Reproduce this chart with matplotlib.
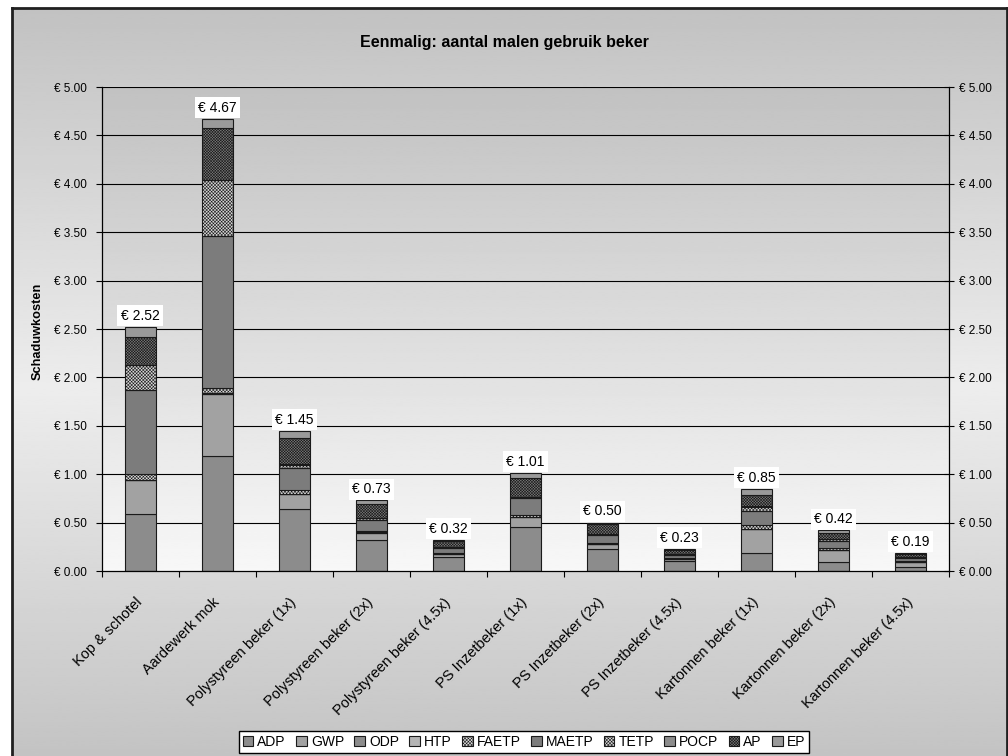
import numpy as np
import matplotlib.pyplot as plt
from matplotlib.ticker import FixedLocator, FuncFormatter

plt.rcParams['font.family'] = ['Liberation Sans', 'DejaVu Sans']
plt.rcParams['hatch.linewidth'] = 0.4

categories = ['Kop & schotel', 'Aardewerk mok', 'Polystyreen beker (1x)',
              'Polystyreen beker (2x)', 'Polystyreen beker (4.5x)',
              'PS Inzetbeker (1x)', 'PS Inzetbeker (2x)', 'PS Inzetbeker (4.5x)',
              'Kartonnen beker (1x)', 'Kartonnen beker (2x)', 'Kartonnen beker (4.5x)']
series = ['ADP', 'GWP', 'ODP', 'HTP', 'FAETP', 'MAETP', 'TETP', 'POCP', 'AP', 'EP']

adp = [0.59, 1.19, 0.645, 0.32, 0.143, 0.45, 0.225, 0.10, 0.19, 0.095, 0.042]
gwp = [0.35, 0.64, 0.15, 0.075, 0.033, 0.11, 0.055, 0.025, 0.245, 0.122, 0.055]
odp = [0.0, 0.0, 0.0, 0.0, 0.0, 0.0, 0.0, 0.0, 0.0, 0.0, 0.0]
htp = [0.005, 0.005, 0.005, 0.003, 0.001, 0.003, 0.001, 0.001, 0.003, 0.002, 0.001]
faetp = [0.06, 0.06, 0.035, 0.017, 0.008, 0.017, 0.009, 0.004, 0.037, 0.018, 0.008]
maetp = [0.87, 1.57, 0.225, 0.113, 0.05, 0.17, 0.085, 0.038, 0.14, 0.07, 0.031]
tetp = [0.25, 0.57, 0.04, 0.02, 0.009, 0.01, 0.005, 0.002, 0.05, 0.025, 0.011]
pocp = [0.005, 0.005, 0.005, 0.002, 0.001, 0.002, 0.001, 0.001, 0.002, 0.001, 0.001]
ap = [0.29, 0.535, 0.27, 0.14, 0.06, 0.20, 0.10, 0.045, 0.123, 0.062, 0.028]
ep = [0.10, 0.095, 0.075, 0.04, 0.017, 0.05, 0.02, 0.014, 0.06, 0.025, 0.013]

values = [adp, gwp, odp, htp, faetp, maetp, tetp, pocp, ap, ep]
faces = ['#8c8c8c', '#a2a2a2', '#8c8c8c', '#b4b4b4', '#d8d8d8',
         '#7c7c7c', '#d4d4d4', '#8c8c8c', '#7a7a7a', '#9a9a9a']
hatches = [None, None, None, None, 'x' * 10, None, 'x' * 10, None, 'x' * 12, None]

fig = plt.figure(figsize=(10.08, 7.56), dpi=100, facecolor='white')

# outer chart frame with a centre gradient
bg = fig.add_axes([12 / 1008, -0.02, (1007 - 12) / 1008, 1 - 8 / 756 + 0.02], zorder=-10)
t = np.linspace(0, 1, 256)
shade = 0.76 + 0.17 * (1 - np.abs(2 * t - 1))
bg.imshow(shade[:, None], cmap='gray', vmin=0, vmax=1, aspect='auto',
          extent=[0, 1, 0, 1], interpolation='bilinear')
bg.set_xticks([])
bg.set_yticks([])
for s in bg.spines.values():
    s.set_linewidth(2)
    s.set_color('#202020')

ax = fig.add_axes([0.101, 0.2447, 0.8405, 0.6402])
x = np.arange(len(categories))

# plot area gradient: light at bottom, darker at top
grad = np.linspace(0.97, 0.76, 256)
ax.imshow(grad[:, None], cmap='gray', vmin=0, vmax=1, aspect='auto', origin='lower',
          extent=[-0.5, len(categories) - 0.5, 0, 5], interpolation='bilinear', zorder=0)

for yv in np.arange(0.5, 5.01, 0.5):
    ax.axhline(yv, color='black', lw=0.8, zorder=1)

bottom = np.zeros(len(categories))
handles = []
for name, vals, fc, h in zip(series, values, faces, hatches):
    vals = np.array(vals)
    b = ax.bar(x, vals, 0.41, bottom=bottom, color=fc, edgecolor='#1a1a1a',
               linewidth=0.8, hatch=h, label=name, zorder=2)
    handles.append(b)
    bottom += vals

for xi, tot in zip(x, bottom):
    ax.annotate(f'€ {tot:.2f}', (xi, tot), xytext=(0, 8), textcoords='offset points',
                ha='center', va='center', fontsize=10,
                bbox=dict(boxstyle='square,pad=0.25', fc='white', ec='none'), zorder=5)

ax.set_xlim(-0.5, len(categories) - 0.5)
ax.set_ylim(0, 5)
yt = np.arange(0, 5.01, 0.5)
fmt = FuncFormatter(lambda v, p: f'€ {v:.2f}')
ax.set_yticks(yt)
ax.yaxis.set_major_formatter(fmt)
ax.tick_params(axis='y', direction='out', length=4, width=0.8, pad=7, labelsize=8.5)

ax.set_xticks(x)
ax.set_xticklabels(categories, rotation=45, ha='right', va='center',
                   rotation_mode='anchor', fontsize=10.5)
ax.tick_params(axis='x', which='major', length=0, pad=21)
ax.xaxis.set_minor_locator(FixedLocator(np.arange(-0.5, len(categories), 1.0)))
ax.tick_params(axis='x', which='minor', direction='out', length=4, width=0.8)

for side in ['top', 'right']:
    ax.spines[side].set_visible(False)
ax.spines['left'].set_linewidth(0.9)
ax.spines['bottom'].set_linewidth(0.9)

ax2 = ax.twinx()
ax2.set_ylim(0, 5)
ax2.set_yticks(yt)
ax2.yaxis.set_major_formatter(fmt)
ax2.tick_params(axis='y', direction='inout', length=7, width=0.8, pad=4, labelsize=8.5)
for side in ['top', 'left', 'bottom']:
    ax2.spines[side].set_visible(False)
ax2.spines['right'].set_linewidth(0.9)

fig.text(0.5, 1 - 42 / 756, 'Eenmalig: aantal malen gebruik beker', ha='center', va='center',
         fontsize=11.5, fontweight='bold', family=['Liberation Sans Narrow', 'Liberation Sans'])
fig.text(0.037, 1 - 331 / 756, 'Schaduwkosten', rotation=90, ha='center', va='center',
         fontsize=9.2, fontweight='bold', family=['Liberation Sans Narrow', 'Liberation Sans'])

leg = fig.legend(handles=handles, loc='center', bbox_to_anchor=(524 / 1008, 1 - 742 / 756),
                 ncol=10, fontsize=10, frameon=True, fancybox=False, handlelength=0.75,
                 handleheight=0.75, handletextpad=0.3, columnspacing=0.75, borderpad=0.3,
                 borderaxespad=0)
leg.get_frame().set_edgecolor('black')
leg.get_frame().set_linewidth(1.0)
leg.get_frame().set_facecolor('white')
leg.get_frame().set_alpha(1)

fig.savefig('out.png', dpi=100)
